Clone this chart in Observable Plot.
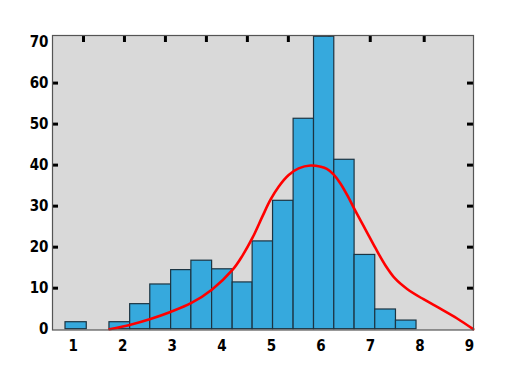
<!DOCTYPE html>
<html>
<head>
<meta charset="utf-8">
<script src="https://cdn.jsdelivr.net/npm/d3@7"></script>
<script src="https://cdn.jsdelivr.net/npm/@observablehq/plot@0.6"></script>
<style>
  html, body { margin: 0; padding: 0; background: #ffffff; }
  #chart svg { display: block; }
</style>
</head>
<body>
<div id="chart"></div>
<script>
// Histogram bins (left / right edges in x units) and counts
const binLeft  = [0.845, 1.732, 2.150, 2.556, 2.977, 3.386, 3.804, 4.219, 4.622, 5.034, 5.449, 5.861, 6.270, 6.680, 7.097, 7.515];
const binRight = [1.274, 2.150, 2.556, 2.977, 3.386, 3.804, 4.219, 4.622, 5.034, 5.449, 5.861, 6.270, 6.680, 7.097, 7.515, 7.930];
const counts   = [1.7, 1.7, 6.1, 10.9, 14.4, 16.7, 14.6, 11.4, 21.4, 31.3, 51.3, 71.3, 41.3, 18.1, 4.8, 2.1];

// Red fitted curve
const curveX = [1.732, 2.156, 2.559, 2.962, 3.386, 3.804, 4.219, 4.42, 4.62, 4.82, 4.98, 5.15, 5.35, 5.55, 5.79, 6.00, 6.12, 6.25, 6.39, 6.54, 6.68, 6.90, 7.10, 7.30, 7.50, 7.74, 8.07, 8.41, 8.75, 9.074];
const curveY = [0, 1.1, 2.5, 4.2, 6.4, 9.7, 14.5, 18.0, 22.3, 27.5, 31.5, 34.8, 37.6, 39.2, 39.9, 39.6, 39.1, 37.8, 35.6, 32.5, 29.2, 24.3, 19.8, 15.6, 12.3, 9.8, 7.3, 5.0, 2.6, 0];

// Axis tick labels and tick mark positions
const xTickLabels = [1, 2, 3, 4, 5, 6, 7, 8, 9];
const yTickLabels = [0, 10, 20, 30, 40, 50, 60, 70];
const sideTicks   = [10, 20, 30, 40, 50, 60];
const topTicks    = [1.208, 2.035, 2.862, 3.689, 4.516, 5.343, 6.170, 6.996, 8.085];

const xDomain = [0.5825, 9.08];
const yDomain = [-0.2, 71.6];

const bars = counts.map((c, i) => ({x1: binLeft[i], x2: binRight[i], y: c}));
const curve = curveX.map((x, i) => ({x, y: curveY[i]}));

const W = 513, H = 379;
const mL = 52, mR = 40, mT = 35, mB = 49.5;
const frameW = W - mL - mR, frameH = H - mT - mB;

const chart = Plot.plot({
  width: W,
  height: H,
  marginLeft: mL,
  marginRight: mR,
  marginTop: mT,
  marginBottom: mB,
  style: {
    fontFamily: "'Liberation Sans Narrow', 'Arial Narrow', 'DejaVu Sans Condensed', sans-serif",
    fontWeight: "bold",
    fontSize: "15px",
    color: "#000",
    background: "#fff"
  },
  x: {domain: xDomain, label: null},
  y: {domain: yDomain, label: null},
  marks: [
    Plot.frame({fill: "#d9d9d9", stroke: null}),
    Plot.ruleX(topTicks, {stroke: "#000", strokeWidth: 3, insetBottom: frameH - 7}),
    Plot.ruleY(sideTicks, {stroke: "#000", strokeWidth: 3, insetRight: frameW - 6}),
    Plot.ruleY(sideTicks, {stroke: "#000", strokeWidth: 3, insetLeft: frameW - 6}),
    Plot.rectY(bars, {x1: "x1", x2: "x2", y1: 0, y2: "y", fill: "#36a9dd", stroke: "#1c3442", strokeWidth: 1.2}),
    Plot.line(curve, {x: "x", y: "y", stroke: "#ff0000", strokeWidth: 2.6, curve: "catmull-rom"}),
    Plot.frame({stroke: "#555", strokeWidth: 1.2}),
    Plot.axisX(xTickLabels, {anchor: "bottom", label: null, tickSize: 0, tickPadding: 10, tickFormat: d => String(d), fill: "#000"}),
    Plot.axisY(yTickLabels, {anchor: "left", label: null, tickSize: 0, tickPadding: 4, tickFormat: d => String(d), fill: "#000"})
  ]
});

document.getElementById("chart").appendChild(chart);
</script>
</body>
</html>
